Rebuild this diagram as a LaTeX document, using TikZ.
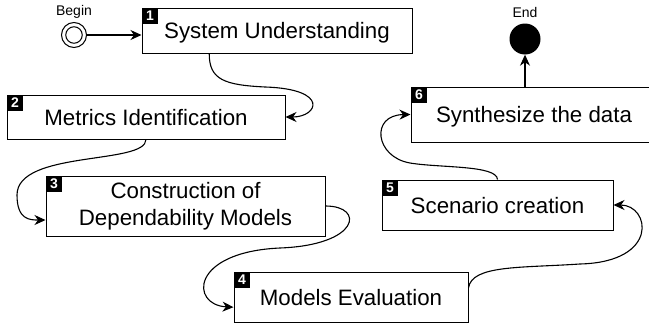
\documentclass[tikz,border=0pt]{standalone}
\usepackage{fontspec}
\setmainfont{Liberation Sans}
\usetikzlibrary{arrows.meta,calc}
\begin{document}
\begin{tikzpicture}[x=1pt,y=-1pt,
  stepbox/.style={draw,line width=1pt,rectangle,inner sep=0pt,font=\fontsize{22.3}{26.5}\selectfont,align=center},
  oneline/.style={text height=16pt,text depth=0pt},
  num/.style={fill=black,text=white,font=\fontsize{14}{14}\bfseries\selectfont,minimum size=16.5pt,inner sep=0pt,anchor=north west},
  flow/.style={line width=1.1pt,-{Stealth[length=11pt,width=10pt,inset=3.5pt]}},
  lbl/.style={font=\fontsize{14}{14}\selectfont}]
\clip (0,0) rectangle (649,324);
% steps
\node[stepbox,oneline,minimum width=270pt,minimum height=45pt] (n1) at (277,30.5) {System Understanding};
\node[stepbox,oneline,minimum width=278pt,minimum height=44pt] (n2) at (146,117) {Metrics Identification};
\node[stepbox,minimum width=279pt,minimum height=60pt] (n3) at (185.5,206) {Construction of\\Dependability Models};
\node[stepbox,oneline,minimum width=234pt,minimum height=50pt] (n4) at (351,297) {Models Evaluation};
\node[stepbox,oneline,minimum width=231pt,minimum height=50pt] (n5) at (497.5,205) {Scenario creation};
\node[stepbox,oneline,minimum width=246pt,minimum height=55pt] (n6) at (534,114.5) {Synthesize the data};
% number tags
\node[num] (t1) at (n1.north west) {1};
\node[num] (t2) at (n2.north west) {2};
\node[num] (t3) at (n3.north west) {3};
\node[num] (t4) at (n4.north west) {4};
\node[num] (t5) at (n5.north west) {5};
\node[num] (t6) at (n6.north west) {6};
% begin / end
\node[circle,draw,line width=1pt,minimum size=25pt,inner sep=0pt] (beginc) at (74,35) {};
\node[circle,draw,line width=1pt,minimum size=16.5pt,inner sep=0pt] (begini) at (beginc) {};
\node[lbl] (beginl) at (74,12) {Begin};
\node[circle,fill=black,minimum size=31pt,inner sep=0pt] (endc) at (525,39) {};
\node[lbl] (endl) at (525,12) {End};
% connectors
\draw[flow] (beginc.east) -- (beginc.east -| n1.west);
\draw[flow] ($(n1.south west)!0.25!(n1.south east)$) .. controls (209,80) and (225,85) .. (265,87)
  .. controls (330,89) and (318,117) .. (n2.east);
\draw[flow] (n2.south) .. controls (146,165) and (17,150) .. (17,195)
  .. controls (17,220) and (30,220) .. ($(n3.south west)!0.27!(n3.north west)$);
\draw[flow] (n3.east) .. controls (365,206) and (360,245) .. (280,248)
  .. controls (190,252) and (190,305) .. ($(n4.south west)!0.3!(n4.north west)$);
\draw[flow] ($(n4.south east)!0.68!(n4.north east)$) .. controls (472,265) and (520,268) .. (580,264)
  .. controls (660,262) and (650,205) .. (n5.east);
\draw[flow] (n5.north) .. controls (497,165) and (440,168) .. (410,163)
  .. controls (375,157) and (370,115) .. (n6.west);
\draw[flow] (n6.north -| endc) -- (endc.south);
\end{tikzpicture}
\end{document}
